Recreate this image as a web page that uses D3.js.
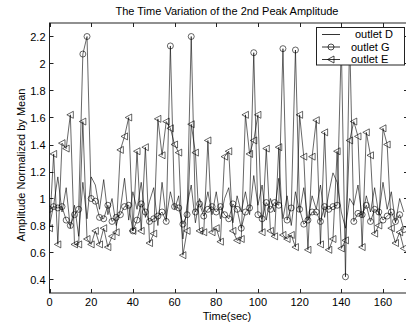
<!DOCTYPE html>
<html>
<head>
<meta charset="utf-8">
<script src="https://cdn.jsdelivr.net/npm/d3@7"></script>
<style>
  body { margin: 0; background: #fff; }
  svg { display: block; font-family: "Liberation Sans", Arial, sans-serif; }
</style>
</head>
<body>
<div id="chart"></div>
<script>
// Time variation of the 2nd peak amplitude - three outlets

const time = [0, 2, 4, 6, 8, 10, 12, 14, 16, 18, 20, 22, 24, 26, 28, 30, 32, 34, 36, 38,
  40, 42, 44, 46, 48, 50, 52, 54, 56, 58, 60, 62, 64, 66, 68, 70, 72, 74, 76, 78,
  80, 82, 84, 86, 88, 90, 92, 94, 96, 98, 100, 102, 104, 106, 108, 110, 112, 114, 116, 118,
  120, 122, 124, 126, 128, 130, 132, 134, 136, 138, 140, 142, 144, 146, 148, 150, 152, 154, 156, 158,
  160, 162, 164, 166, 168, 170];

const outletD = [0.80, 0.95, 1.16, 0.90, 1.08, 0.78, 0.95, 0.72, 1.12, 0.85, 1.16, 1.10, 0.92, 1.14, 0.88, 1.00, 0.80, 0.92, 1.15, 0.84,
  1.05, 0.92, 1.12, 0.86, 0.98, 1.08, 0.80, 1.12, 0.85, 1.05, 0.92, 1.02, 0.70, 0.95, 1.10, 0.82, 1.00, 0.90, 1.05, 0.88,
  1.05, 0.85, 1.00, 1.08, 0.82, 1.02, 0.90, 1.05, 0.88, 1.17, 0.95, 1.10, 0.84, 1.00, 0.90, 1.15, 0.85, 1.02, 0.80, 1.05,
  0.90, 1.08, 0.84, 1.02, 0.92, 1.10, 0.86, 1.04, 1.19, 1.12, 0.90, 0.78, 1.00, 0.95, 1.10, 0.86, 1.02, 0.90, 1.08, 0.88,
  1.12, 0.92, 1.05, 0.82, 1.00, 0.90];

const outletG = [0.92, 0.94, 0.93, 0.94, 0.84, 0.80, 0.88, 0.92, 2.07, 2.20, 1.00, 0.98, 0.86, 0.85, 0.95, 0.83, 0.86, 0.88, 0.94, 0.95,
  0.76, 0.84, 0.96, 0.90, 0.83, 0.85, 0.87, 0.90, 0.83, 2.13, 0.94, 0.93, 0.81, 0.88, 2.20, 0.90, 0.96, 0.87, 0.92, 0.94,
  0.90, 0.94, 0.88, 0.85, 0.96, 0.92, 0.78, 0.90, 0.93, 2.08, 0.88, 0.85, 0.97, 0.92, 0.97, 0.95, 2.11, 0.84, 0.93, 2.10,
  0.92, 0.81, 0.84, 0.90, 0.90, 0.83, 0.94, 0.92, 0.94, 0.95, 2.15, 0.42, 2.20, 0.83, 0.89, 0.88, 0.95, 0.83, 0.92, 0.90,
  0.84, 0.87, 0.90, 0.83, 0.88, 0.77];

const outletE = [0.78, 1.33, 0.66, 1.41, 1.37, 1.62, 0.66, 0.66, 1.57, 0.70, 0.66, 0.76, 0.66, 0.78, 0.64, 0.72, 0.75, 1.36, 1.46, 1.60,
  0.76, 1.35, 0.76, 1.38, 0.67, 0.74, 1.59, 1.32, 1.57, 1.52, 1.40, 1.34, 0.58, 0.76, 1.55, 1.34, 0.76, 0.75, 1.43, 0.75,
  0.78, 0.68, 1.31, 1.35, 0.76, 0.69, 0.70, 1.62, 1.33, 1.43, 1.62, 0.75, 1.37, 0.76, 0.72, 1.38, 0.73, 0.70, 0.73, 0.64,
  1.62, 1.31, 0.62, 1.31, 1.58, 0.66, 1.49, 0.62, 0.70, 1.35, 0.63, 0.69, 1.43, 1.57, 1.46, 0.64, 1.49, 1.32, 0.74, 0.80,
  1.52, 1.40, 0.78, 0.67, 0.75, 0.63];

const xTicks = [0, 20, 40, 60, 80, 100, 120, 140, 160];
const yTicks = [0.4, 0.6, 0.8, 1, 1.2, 1.4, 1.6, 1.8, 2, 2.2];
const legendLabels = ["outlet D", "outlet G", "outlet E"];

const width = 406;
const height = 329;
const margin = {top: 23, right: -2, bottom: 36, left: 49.5};

const svg = d3.select("#chart")
    .append("svg")
    .attr("width", width)
    .attr("height", height);

const x = d3.scaleLinear()
    .domain([0, 172])
    .range([margin.left, width - margin.right]);

const y = d3.scaleLinear()
    .domain([0.3, 2.3])
    .range([height - margin.bottom, margin.top]);

svg.append("defs").append("clipPath")
    .attr("id", "plot-clip")
    .append("rect")
    .attr("x", x(0))
    .attr("y", y(2.3))
    .attr("width", x(172) - x(0))
    .attr("height", y(0.3) - y(2.3));

// frame + inward ticks, matlab style
const tickLen = 4;
const frame = svg.append("g").attr("stroke", "#222").attr("stroke-width", 1).attr("fill", "none");

frame.append("rect")
    .attr("x", x(0))
    .attr("y", y(2.3))
    .attr("width", x(172) - x(0))
    .attr("height", y(0.3) - y(2.3));

xTicks.forEach(t => {
    const px = Math.round(x(t)) + 0.5;
    frame.append("line").attr("x1", px).attr("x2", px).attr("y1", y(0.3)).attr("y2", y(0.3) - tickLen);
    frame.append("line").attr("x1", px).attr("x2", px).attr("y1", y(2.3)).attr("y2", y(2.3) + tickLen);
});

yTicks.forEach(v => {
    const py = Math.round(y(v)) + 0.5;
    frame.append("line").attr("x1", x(0)).attr("x2", x(0) + tickLen).attr("y1", py).attr("y2", py);
    frame.append("line").attr("x1", x(172)).attr("x2", x(172) - tickLen).attr("y1", py).attr("y2", py);
});

svg.append("g")
    .selectAll("text")
    .data(xTicks)
    .join("text")
    .attr("x", d => x(d))
    .attr("y", y(0.3) + 13)
    .attr("text-anchor", "middle")
    .attr("font-size", 11)
    .text(d => d);

svg.append("g")
    .selectAll("text")
    .data(yTicks)
    .join("text")
    .attr("x", x(0) - 4)
    .attr("y", d => y(d) + 4)
    .attr("text-anchor", "end")
    .attr("font-size", 11)
    .text(d => d);

// series
const plot = svg.append("g").attr("clip-path", "url(#plot-clip)");

const line = d3.line()
    .x(d => x(d[0]))
    .y(d => y(d[1]));

const seriesD = time.map((t, i) => [t, outletD[i]]);
const seriesG = time.map((t, i) => [t, outletG[i]]);
const seriesE = time.map((t, i) => [t, outletE[i]]);

[seriesD, seriesG, seriesE].forEach(s => {
    plot.append("path")
        .datum(s)
        .attr("d", line)
        .attr("fill", "none")
        .attr("stroke", "#000")
        .attr("stroke-width", 0.6);
});

const triPath = "M-3.5,0L3,-3.5L3,3.5Z";

plot.selectAll("circle.g")
    .data(seriesG)
    .join("circle")
    .attr("class", "g")
    .attr("cx", d => x(d[0]))
    .attr("cy", d => y(d[1]))
    .attr("r", 3)
    .attr("fill", "none")
    .attr("stroke", "#000")
    .attr("stroke-width", 0.6);

plot.selectAll("path.e")
    .data(seriesE)
    .join("path")
    .attr("class", "e")
    .attr("d", triPath)
    .attr("transform", d => `translate(${x(d[0])},${y(d[1])})`)
    .attr("fill", "none")
    .attr("stroke", "#000")
    .attr("stroke-width", 0.6);

// legend
const legend = svg.append("g");
legend.append("rect")
    .attr("x", 316.5)
    .attr("y", 27.5)
    .attr("width", 88)
    .attr("height", 37.5)
    .attr("fill", "#fff")
    .attr("stroke", "#222");

legendLabels.forEach((lab, i) => {
    const ly = 34.5 + i * 12.5;
    legend.append("line")
        .attr("x1", 322).attr("x2", 340)
        .attr("y1", ly).attr("y2", ly)
        .attr("stroke", "#000").attr("stroke-width", 0.8);
    if (i === 1) {
        legend.append("circle").attr("cx", 331).attr("cy", ly).attr("r", 3)
            .attr("fill", "none").attr("stroke", "#000").attr("stroke-width", 0.7);
    }
    if (i === 2) {
        legend.append("path").attr("d", triPath).attr("transform", `translate(331,${ly})`)
            .attr("fill", "none").attr("stroke", "#000").attr("stroke-width", 0.7);
    }
    legend.append("text")
        .attr("x", i === 0 ? 355 : 351)
        .attr("y", ly + 3.5)
        .attr("font-size", 11)
        .text(lab);
});

// titles
svg.append("text")
    .attr("x", 227)
    .attr("y", 15)
    .attr("text-anchor", "middle")
    .attr("font-size", 11)
    .text("The Time Variation of the 2nd Peak Amplitude");

svg.append("text")
    .attr("x", 227)
    .attr("y", 320)
    .attr("text-anchor", "middle")
    .attr("font-size", 11)
    .text("Time(sec)");

svg.append("text")
    .attr("transform", "translate(25, 165) rotate(-90)")
    .attr("text-anchor", "middle")
    .attr("font-size", 11)
    .text("Amplitude Normalized by Mean");
</script>
</body>
</html>
